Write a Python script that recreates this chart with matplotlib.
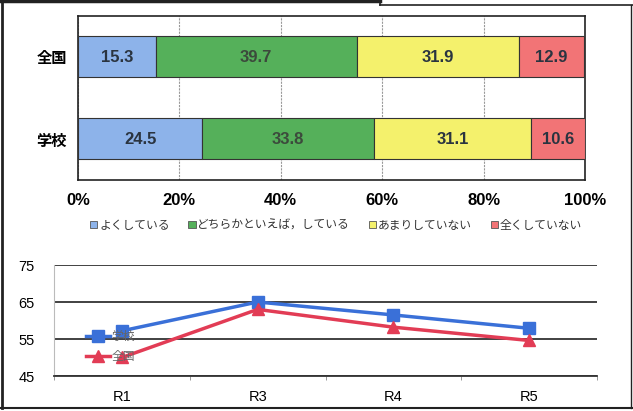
import matplotlib.pyplot as plt
from matplotlib import font_manager
from matplotlib.lines import Line2D
from matplotlib.patches import Patch

plt.rcParams['font.family'] = ['Noto Sans CJK JP', 'DejaVu Sans']

# Stacked bar data (percent)
groups = ['全国', '学校']
answers = ['よくしている', 'どちらかといえば，している', 'あまりしていない', '全くしていない']
share_national = [15.3, 39.7, 31.9, 12.9]
share_school = [24.5, 33.8, 31.1, 10.6]
bar_colors = ['#8db3ea', '#55b05a', '#f4f16c', '#f27476']

# Trend data
years = ['R1', 'R3', 'R4', 'R5']
trend_school = [57.2, 65.0, 61.5, 57.9]
trend_national = [50.0, 63.0, 58.2, 54.6]

installed = {f.name for f in font_manager.fontManager.ttflist}
narrow = [n for n in ['Liberation Sans Narrow', 'Liberation Sans'] if n in installed]
num_font = narrow[:1] + ['DejaVu Sans']

W, H = 633, 411
fig = plt.figure(figsize=(W / 100, H / 100), dpi=100)


def box(left, top, right, bottom):
    return [left / W, 1 - bottom / H, (right - left) / W, (bottom - top) / H]


# --- stacked horizontal bars ---
ax1 = fig.add_axes(box(78, 16, 585, 180))
rows = [share_national, share_school]
for i, row in enumerate(rows):
    left = 0
    for j, val in enumerate(row):
        ax1.barh(i, val, left=left, height=0.5, color=bar_colors[j],
                 edgecolor='#333333', linewidth=0.8, zorder=3)
        ax1.text(left + val / 2, i, f'{val:.1f}', ha='center', va='center',
                 fontsize=12, fontweight='bold', color='#2a3440' if j != 1 else '#3c4a3c',
                 family=num_font, zorder=4)
        left += val

ax1.set_xlim(0, 100)
ax1.set_ylim(1.5, -0.5)
ax1.set_yticks(range(len(groups)))
ax1.set_yticklabels(groups, fontsize=11, fontweight='bold')
ax1.set_xticks(range(0, 101, 20))
ax1.set_xticklabels([f'{v}%' for v in range(0, 101, 20)], fontsize=12,
                    fontweight='bold', family=num_font)
ax1.tick_params(length=0, pad=9)
ax1.tick_params(axis='y', pad=8)
ax1.grid(axis='x', color='#999999', linewidth=0.8, linestyle=(0, (2, 1)), zorder=0)
for s in ax1.spines.values():
    s.set_color('#222222')
    s.set_linewidth(1.2)

handles = [Patch(facecolor=c, edgecolor='#555555', linewidth=0.6) for c in bar_colors]
fig.legend(handles, answers, loc='center', bbox_to_anchor=(336 / W, 1 - 225 / H),
           ncol=4, frameon=False, fontsize=8.5, handlelength=0.6, handleheight=0.6,
           handletextpad=0.15, columnspacing=1.6, labelcolor='#333333')

# --- trend lines ---
ax2 = fig.add_axes(box(54, 265, 597, 376))
x = range(len(years))
ax2.plot(x, trend_school, color='#3a70d8', linewidth=2.5, marker='s', markersize=8,
         label='学校', zorder=3)
ax2.plot(x, trend_national, color='#e23c55', linewidth=2.5, marker='^', markersize=8,
         label='全国', zorder=3)
ax2.set_xlim(-0.5, len(years) - 0.5)
ax2.set_ylim(45, 75)
ax2.set_yticks([45, 55, 65, 75])
ax2.set_xticks(list(x))
ax2.set_xticklabels(years, fontsize=10.5, family=num_font)
ax2.set_xticks([i + 0.5 for i in range(-1, len(years))], minor=True)
ax2.tick_params(axis='x', which='major', length=0, pad=10)
ax2.tick_params(axis='x', which='minor', length=3, color='#888888')
ax2.tick_params(axis='y', length=0, pad=14, labelsize=10.5)
for lab in ax2.get_yticklabels():
    lab.set_family(num_font)
ax2.grid(axis='y', color='#333333', linewidth=1.3, zorder=0)
for name in ['top', 'right']:
    ax2.spines[name].set_visible(False)
ax2.spines['left'].set_color('#bbbbbb')
ax2.spines['left'].set_linewidth(0.8)
ax2.spines['bottom'].set_color('#333333')
ax2.spines['bottom'].set_linewidth(1.3)
ax2.legend(loc='upper left', bbox_to_anchor=(0.04, 0.51), frameon=False, fontsize=8.5,
           handlelength=2.0, handletextpad=0.1, labelspacing=0.6, labelcolor='#666666')

# outer frame
frame = [
    ((0, 380), (1.5, 1.5), 2.5),
    ((380, 380), (0, 5), 1.2),
    ((380, 633), (5, 5), 1.2),
    ((1.5, 1.5), (0, 408), 2.0),
    ((631, 631), (5, 408), 1.0),
    ((0, 633), (408, 408), 1.5),
]
for xs, ys, lw in frame:
    fig.add_artist(Line2D([v / W for v in xs], [1 - v / H for v in ys],
                          color='#222222', linewidth=lw))

fig.savefig('out.png', dpi=100)
